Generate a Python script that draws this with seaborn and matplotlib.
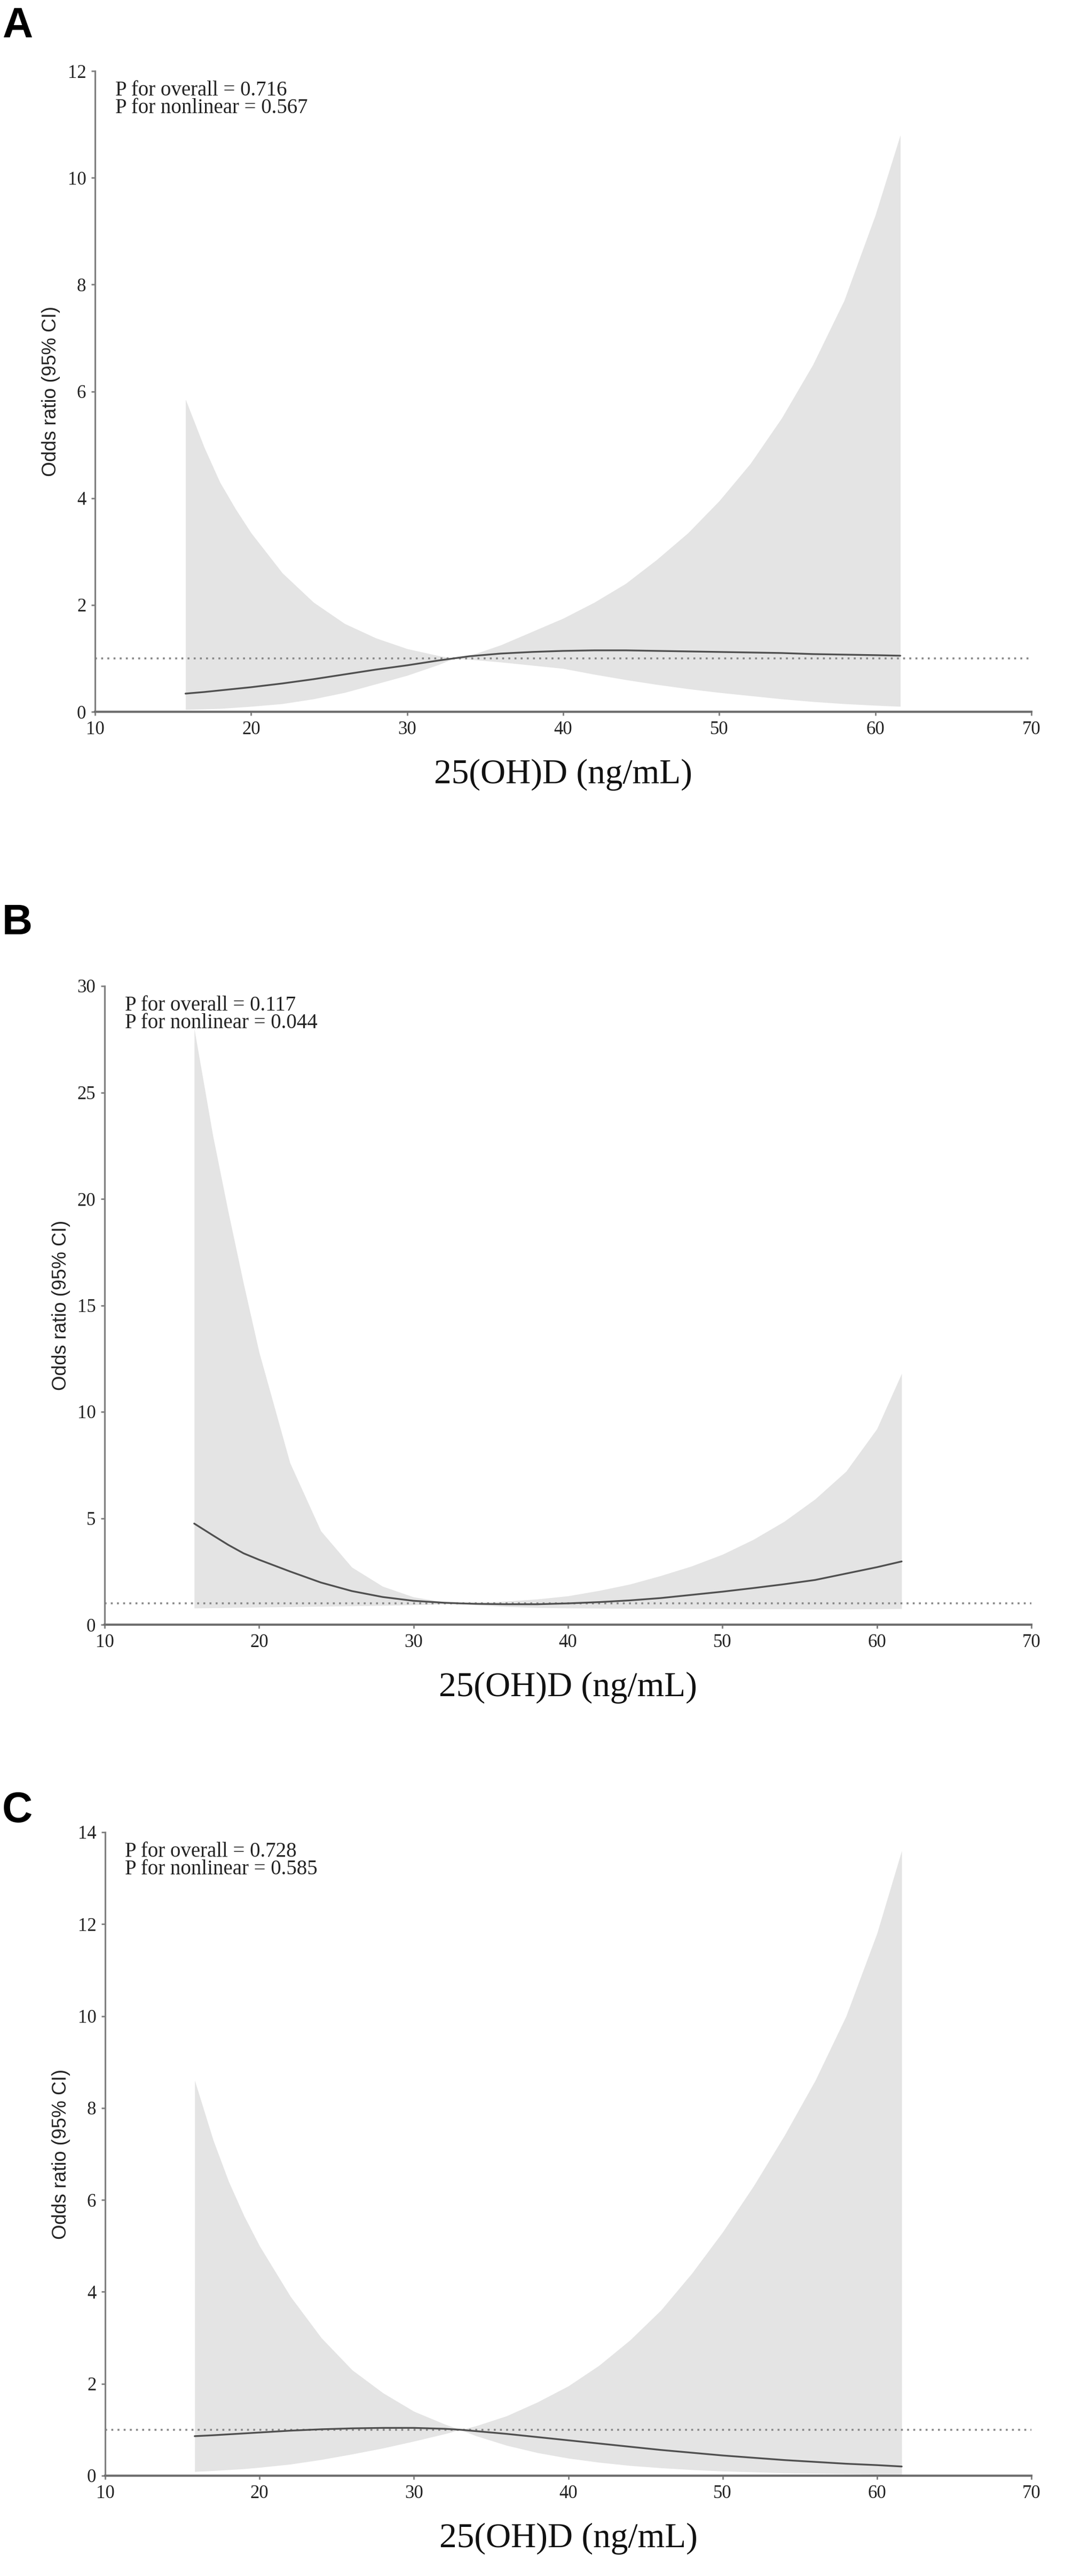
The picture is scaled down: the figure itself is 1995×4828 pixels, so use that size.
import matplotlib
matplotlib.use("Agg")
import matplotlib.pyplot as plt
import seaborn as sns

# 25(OH)D grid (ng/mL)
vitd = [15.8, 17, 18, 19, 20, 22, 24, 26, 28, 30, 32, 33, 34, 36, 38, 40,
        42, 44, 46, 48, 50, 52, 54, 56, 58, 60, 61.6]

# panel A
or_a = [0.34, 0.37, 0.40, 0.43, 0.46, 0.53, 0.61, 0.70, 0.79, 0.87, 0.96, 1.00, 1.04, 1.09, 1.12, 1.14,
        1.15, 1.15, 1.14, 1.13, 1.12, 1.11, 1.10, 1.08, 1.07, 1.06, 1.05]
hi_a = [5.85, 4.95, 4.30, 3.80, 3.35, 2.60, 2.05, 1.65, 1.38, 1.18, 1.05, 1.00, 1.05, 1.25, 1.50, 1.75,
        2.05, 2.40, 2.85, 3.35, 3.95, 4.65, 5.50, 6.50, 7.70, 9.30, 10.80]
lo_a = [0.04, 0.05, 0.06, 0.08, 0.10, 0.15, 0.24, 0.36, 0.52, 0.68, 0.88, 1.00, 0.98, 0.93, 0.87, 0.81,
        0.70, 0.60, 0.51, 0.43, 0.36, 0.30, 0.24, 0.19, 0.15, 0.12, 0.10]

# panel B
or_b = [4.75, 4.20, 3.75, 3.35, 3.05, 2.50, 1.98, 1.58, 1.30, 1.12, 1.03, 1.00, 0.98, 0.96, 0.96, 1.00,
        1.06, 1.14, 1.25, 1.40, 1.55, 1.72, 1.90, 2.10, 2.40, 2.70, 2.97]
hi_b = [28.0, 23.0, 19.4, 16.0, 12.8, 7.6, 4.4, 2.7, 1.8, 1.3, 1.06, 1.00, 1.02, 1.10, 1.20, 1.35,
        1.60, 1.90, 2.30, 2.75, 3.30, 4.00, 4.85, 5.90, 7.20, 9.20, 11.80]
lo_b = [0.78, 0.79, 0.80, 0.81, 0.82, 0.84, 0.86, 0.88, 0.90, 0.93, 0.97, 1.00, 0.93, 0.85, 0.80, 0.78,
        0.77, 0.76, 0.76, 0.75, 0.75, 0.74, 0.74, 0.73, 0.73, 0.74, 0.75]

# panel C
or_c = [0.86, 0.88, 0.90, 0.92, 0.94, 0.98, 1.01, 1.03, 1.04, 1.04, 1.02, 1.00, 0.97, 0.91, 0.84, 0.77,
        0.70, 0.63, 0.56, 0.50, 0.44, 0.39, 0.34, 0.30, 0.26, 0.23, 0.20]
hi_c = [8.6, 7.3, 6.4, 5.65, 5.0, 3.9, 3.0, 2.3, 1.8, 1.4, 1.12, 1.0, 1.08, 1.3, 1.6, 1.95,
        2.4, 2.95, 3.6, 4.4, 5.3, 6.3, 7.4, 8.6, 10.0, 11.8, 13.6]
lo_c = [0.09, 0.11, 0.13, 0.15, 0.18, 0.25, 0.35, 0.47, 0.60, 0.75, 0.91, 1.00, 0.87, 0.66, 0.50, 0.38,
        0.29, 0.22, 0.17, 0.13, 0.10, 0.08, 0.06, 0.05, 0.04, 0.03, 0.03]

p_overall = ["0.716", "0.117", "0.728"]
p_nonlin = ["0.567", "0.044", "0.585"]
letters = ["A", "B", "C"]
ymax = [12, 30, 14]
ystep = [2, 5, 2]
xticks = [10, 20, 30, 40, 50, 60, 70]

sns.set_theme(style="ticks")
plt.rcParams["font.family"] = ["Liberation Serif", "DejaVu Serif"]

W, H = 1995, 4828
fig = plt.figure(figsize=(W / 100, H / 100), dpi=100)

# axes boxes in pixels: left, right, top(ymax), bottom(0)
boxes = [(178, 1932, 133, 1334), (196, 1932, 1848, 3045), (197, 1932, 3434, 4640)]
letter_top = [12, 1693, 3357]
curves = [(or_a, lo_a, hi_a), (or_b, lo_b, hi_b), (or_c, lo_c, hi_c)]

spine_col = "#7f7f7f"
for i in range(3):
    l, r, t, b = boxes[i]
    ax = fig.add_axes([l / W, 1 - b / H, (r - l) / W, (b - t) / H])
    orv, lo, hi = curves[i]
    ax.fill_between(vitd, lo, hi, color="#e4e4e4", linewidth=0, zorder=1)
    ax.axhline(1, color="#888888", linewidth=2.6, linestyle=(0, (1, 2.2)), zorder=2)
    sns.lineplot(x=vitd, y=orv, ax=ax, color="#505050", linewidth=2.4, zorder=3)

    ax.set_xlim(10, 70)
    ax.set_ylim(0, ymax[i])
    ax.set_xticks(xticks)
    ax.set_yticks(range(0, ymax[i] + 1, ystep[i]))
    sns.despine(ax=ax)
    ax.spines["left"].set_linewidth(2.2)
    ax.spines["bottom"].set_linewidth(3.0)
    ax.spines["left"].set_color(spine_col)
    ax.spines["bottom"].set_color("#6f6f6f")
    ax.tick_params(length=5, width=2, color=spine_col, labelsize=25, pad=7, labelcolor="#222222")

    ax.set_xlabel("25(OH)D (ng/mL)", fontsize=47, color="#111111")
    ax.xaxis.label.set_va("center")
    ax.xaxis.set_label_coords(0.5, -118 / (b - t))
    ax.set_ylabel("Odds ratio (95% CI)", fontsize=26, color="#222222",
                  family=["Liberation Sans", "DejaVu Sans"])
    ax.yaxis.label.set_va("center")
    ax.yaxis.set_label_coords(-82 / (r - l), 0.5)

    ax.annotate("P for overall = " + p_overall[i], xy=(0, 1), xycoords="axes fraction",
                xytext=(27, -26), textcoords="offset points", va="center", ha="left",
                fontsize=28, color="#222222")
    ax.annotate("P for nonlinear = " + p_nonlin[i], xy=(0, 1), xycoords="axes fraction",
                xytext=(27, -50), textcoords="offset points", va="center", ha="left",
                fontsize=28, color="#222222")

    fig.text(4 / W, 1 - letter_top[i] / H, letters[i], fontsize=57, fontweight="bold",
             va="top", ha="left", color="black", family=["Liberation Sans", "DejaVu Sans"])

fig.savefig("out.png", dpi=100, facecolor="white")
